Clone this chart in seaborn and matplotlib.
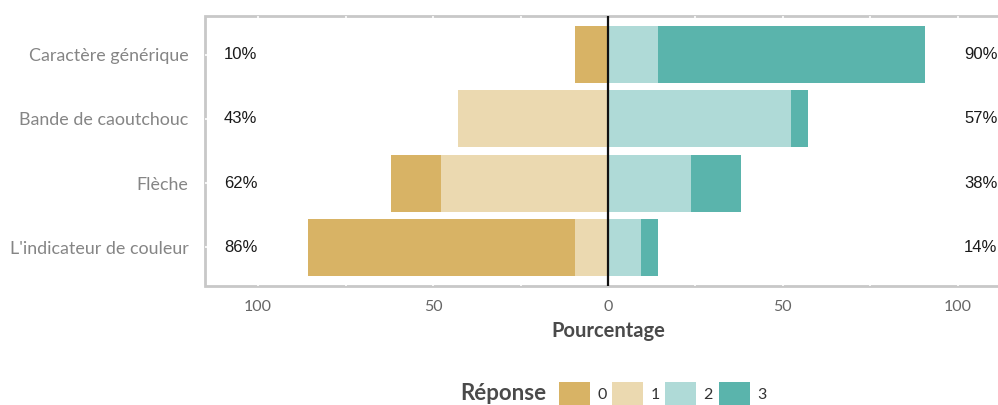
import numpy as np
import pandas as pd
import matplotlib
matplotlib.use("Agg")
import matplotlib.pyplot as plt
from matplotlib.patches import Patch
import seaborn as sns

# ── data (percent of respondents per answer level) ─────────
items = ["Caractère générique", "Bande de caoutchouc", "Flèche", "L'indicateur de couleur"]
rep_0 = [9.5, 0.0, 14.3, 76.2]
rep_1 = [0.0, 42.9, 47.6, 9.5]
rep_2 = [14.3, 52.4, 23.8, 9.5]
rep_3 = [76.2, 4.8, 14.3, 4.8]
low_labels = ["10%", "43%", "62%", "86%"]
high_labels = ["90%", "57%", "38%", "14%"]
levels = ["0", "1", "2", "3"]
colors = ["#D8B365", "#EBD9B0", "#AFDAD7", "#5AB4AC"]

df = pd.DataFrame({"item": items, "r0": rep_0, "r1": rep_1, "r2": rep_2, "r3": rep_3})
df["left_outer"] = -(df["r0"] + df["r1"])
df["left_inner"] = -df["r1"]
df["right_outer"] = df["r2"] + df["r3"]
df["right_inner"] = df["r2"]

sns.set_theme(style="white")
plt.rcParams["font.family"] = ["Lato", "DejaVu Sans"]

fig = plt.figure(figsize=(9.98, 4.05), dpi=100)
ax = fig.add_axes([205 / 998, 1 - 286 / 405, (1011 - 205) / 998, (286 - 16) / 405])

# stacked diverging bars: outer cumulative first, inner on top
for col, c in [("left_outer", colors[0]), ("left_inner", colors[1]),
               ("right_outer", colors[3]), ("right_inner", colors[2])]:
    sns.barplot(data=df, x=col, y="item", orient="h", color=c, width=0.89,
                linewidth=0, saturation=1, ax=ax, zorder=3)

ax.axvline(0, color="#111111", lw=1.6, zorder=4)

for i, (lo, hi) in enumerate(zip(low_labels, high_labels)):
    ax.text(-105, i, lo, ha="center", va="center", fontsize=12,
            family=["Liberation Sans"], color="#1a1a1a")
    ax.text(106.6, i, hi, ha="center", va="center", fontsize=12,
            family=["Liberation Sans"], color="#1a1a1a")

ax.set_xlim(-115.2, 115.2)
ax.set_ylim(3.6, -0.6)
ax.set_xticks([-100, -50, 0, 50, 100])
ax.set_xticklabels(["100", "50", "0", "50", "100"], fontsize=11.5, color="#666666")
ax.tick_params(axis="y", labelsize=12.9, colors="#858585", length=0, pad=12)
ax.tick_params(axis="x", length=0, pad=10)
ax.set_ylabel("")
ax.set_xlabel("Pourcentage", fontsize=14.5, fontweight="bold", color="#4a4a4a", labelpad=5)

# panel frame with white grid lines crossing it
for s in ax.spines.values():
    s.set_visible(False)
ax.patch.set_edgecolor("#c8c8c8")
ax.patch.set_linewidth(2)
ax.set_axisbelow(True)
ax.set_xticks([-75, -25, 25, 75], minor=True)
ax.grid(True, which="both", color="white", lw=1.2)

# legend
fig.text(546 / 998, 1 - 393 / 405, "Réponse", ha="right", va="center",
         fontsize=16, fontweight="bold", color="#4a4a4a")
handles = [Patch(facecolor=c, edgecolor="none") for c in colors]
fig.legend(handles, levels, ncol=4, loc="center left",
           bbox_to_anchor=(546 / 998, 1 - 394 / 405), frameon=False,
           fontsize=11.5, handlelength=1.95, handleheight=1.95,
           handletextpad=0.45, columnspacing=0.35, labelcolor="#333333",
           borderpad=0.3)

fig.savefig("out.png", dpi=100)
